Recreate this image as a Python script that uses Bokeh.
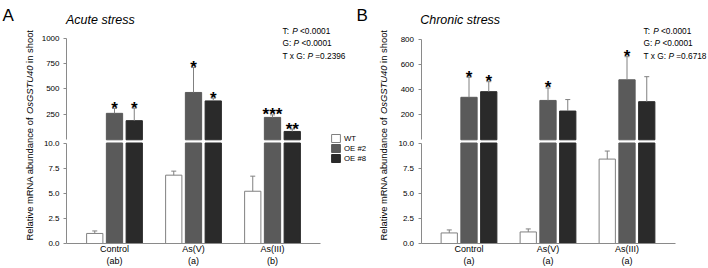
import math
from bokeh.plotting import figure
from bokeh.models import (Range1d, LinearAxis, FixedTicker, NumeralTickFormatter,
                          ColumnDataSource, Label, Legend, LegendItem,
                          Whisker, TeeHead)
from bokeh.embed import file_html
from bokeh.resources import INLINE
from bokeh.core.properties import value

# ---------------- data ----------------
categories = ["Control", "As(V)", "As(III)"]
genotypes = ["WT", "OE #2", "OE #8"]
lower_ticks = [0, 2.5, 5, 7.5, 10]
break_value = 10
stat_terms = ["T:", "G:", "T x G:"]

a_wt = [1.0, 6.8, 5.2]
a_wt_err = [0.25, 0.4, 1.5]
a_oe2 = [260, 465, 220]
a_oe2_err = [48, 245, 25]
a_oe8 = [188, 382, 82]
a_oe8_err = [122, 27, 23]
a_sig_oe2 = ["*", "*", "***"]
a_sig_oe8 = ["*", "*", "**"]
a_letters = ["(ab)", "(a)", "(b)"]
a_upper_ticks = [250, 500, 750, 1000]
a_stats = ["<0.0001", "<0.0001", "=0.2396"]

b_wt = [1.05, 1.15, 8.4]
b_wt_err = [0.3, 0.3, 0.8]
b_oe2 = [340, 315, 480]
b_oe2_err = [160, 100, 185]
b_oe8 = [385, 230, 305]
b_oe8_err = [80, 92, 200]
b_sig_oe2 = ["*", "*", "*"]
b_sig_oe8 = ["*", "", ""]
b_letters = ["(a)", "(a)", "(a)"]
b_upper_ticks = [200, 400, 600, 800]
b_stats = ["<0.0001", "<0.0001", "=0.6718"]

# ---------------- layout / style ----------------
FONT = "Liberation Sans"
TW, H = 708, 268
FL, FR, FB = 66, 320, 243        # frame edges of a panel (panel-relative x)
PX_X = 79.0                      # pixels per category
LOW_PX = 10.05                   # pixels per unit, lower segment
ZERO_UP = 139.3                  # screen y of 0 in the upper segment
OFFS = [-0.25, 0.0, 0.25]
BW = 0.206
C_WT, C_OE2, C_OE8 = "#ffffff", "#5a5a5a", "#2a2a2a"
C_AX = "#8a8a8a"
C_ERR = "#808080"
C_TXT = "#000000"

W = {' ': 278, 'T': 611, ':': 278, 'G': 778, 'x': 500, 'P': 667, '<': 584, '=': 584,
     '.': 278, 'O': 778, 's': 500, 'S': 667, 'U': 722, 'R': 722, 'e': 556, 'l': 222,
     'a': 556, 't': 278, 'i': 222, 'v': 500, 'm': 833, 'N': 722, 'A': 667, 'b': 556,
     'u': 556, 'n': 556, 'd': 556, 'c': 500, 'o': 556, 'f': 278, 'h': 556}


def tw(s, size):
    return sum(W.get(c, 556) for c in s) / 1000.0 * size


def label(sx, sy, text, size, style="normal", align="left", baseline="alphabetic", angle=0.0):
    return Label(x=sx, y=H - sy, x_units="screen", y_units="screen", text=text,
                 text_font=FONT, text_font_size=f"{size}px", text_font_style=style,
                 text_align=align, text_baseline=baseline, angle=angle, text_color=C_TXT)


p = figure(width=TW, height=H, output_backend="svg", toolbar_location=None,
           x_axis_type=None, y_axis_type=None, min_border=0,
           x_range=Range1d(0, TW),
           y_range=Range1d(-(H - FB) / LOW_PX, FB / LOW_PX))
p.outline_line_color = None
p.background_fill_color = "white"
p.border_fill_color = "white"


def style_axis(ax, size):
    ax.axis_line_color = C_AX
    ax.major_tick_line_color = C_AX
    ax.minor_tick_line_color = None
    ax.major_tick_out = 3
    ax.major_tick_in = 0
    ax.major_label_standoff = 4
    ax.major_label_text_font = FONT
    ax.major_label_text_font_size = size
    ax.major_label_text_color = C_TXT


def add_panel(key, off, letter, title, wt, wt_err, oe2, oe2_err, oe8, oe8_err, sig2, sig8,
              letters, upper_ticks, stats, top_sy, stats_x, title_x, letter_x, ylab_x):
    xname, uname = "x" + key, "u" + key
    xstart = 1 - (off + (FL + FR) / 2) / PX_X
    p.extra_x_ranges[xname] = Range1d(xstart, xstart + TW / PX_X)
    k = (ZERO_UP - top_sy) / upper_ticks[-1]
    p.extra_y_ranges[uname] = Range1d(-(H - ZERO_UP) / k, ZERO_UP / k)

    def xd(sx):
        return xstart + sx / PX_X

    # axes (drawn at fixed locations inside the single frame)
    ya = LinearAxis(x_range_name=xname, ticker=FixedTicker(ticks=lower_ticks),
                    formatter=NumeralTickFormatter(format="0.0"),
                    bounds=(0, break_value), fixed_location=xd(off + FL))
    yu = LinearAxis(x_range_name=xname, y_range_name=uname, ticker=FixedTicker(ticks=upper_ticks),
                    bounds=(0, upper_ticks[-1]), fixed_location=xd(off + FL))
    for ax in (ya, yu):
        style_axis(ax, "8px")
        p.add_layout(ax, "left")
    xa = LinearAxis(x_range_name=xname, ticker=FixedTicker(ticks=[0, 1, 2]),
                    major_label_overrides={i: c for i, c in enumerate(categories)},
                    bounds=(xd(off + FL), xd(off + FR)), fixed_location=0)
    style_axis(xa, "9px")
    xa.major_tick_line_color = None
    xa.major_tick_out = 0
    xa.major_label_standoff = 0
    p.add_layout(xa, "below")

    series = [(wt, wt_err, C_WT, "#808080"), (oe2, oe2_err, C_OE2, C_OE2), (oe8, oe8_err, C_OE8, C_OE8)]
    low_renderers = []
    for gi, (vals, errs, fc, lc) in enumerate(series):
        xs = [i + OFFS[gi] for i in range(len(categories))]
        low_top = [min(v, break_value) for v in vals]
        r = p.vbar(x=xs, top=low_top, bottom=0, width=BW, fill_color=fc, line_color=lc,
                   line_width=1, x_range_name=xname)
        low_renderers.append(r)
        upper = all(v > break_value for v in vals)
        if upper:
            p.vbar(x=xs, top=vals, bottom=0, width=BW, fill_color=fc, line_color=lc,
                   line_width=1, x_range_name=xname, y_range_name=uname)
        src = ColumnDataSource(dict(x=xs, lo=vals, hi=[v + e for v, e in zip(vals, errs)]))
        wk = Whisker(source=src, base="x", lower="lo", upper="hi", dimension="height",
                     line_color=C_ERR, line_width=1, lower_head=None,
                     upper_head=TeeHead(size=5, line_color=C_ERR, line_width=1),
                     level="annotation", x_range_name=xname)
        if upper:
            wk.y_range_name = uname
        p.add_layout(wk)

    # significance stars
    for gi, (vals, errs, sig) in enumerate([(oe2, oe2_err, sig2), (oe8, oe8_err, sig8)]):
        xs = [i + OFFS[gi + 1] for i in range(len(categories))]
        ys = [v + e for v, e in zip(vals, errs)]
        src = ColumnDataSource(dict(x=xs, y=ys, t=sig))
        p.text(x="x", y="y", text="t", source=src, x_range_name=xname, y_range_name=uname,
               text_font=value(FONT), text_font_style="bold", text_font_size="17px",
               text_align="center", text_baseline="alphabetic", text_color=C_TXT)

    # group letters
    for i, t in enumerate(letters):
        sx = off + FL + (i - (1 - (FR - FL) / 2 / PX_X)) * PX_X
        p.add_layout(label(sx, 260.5, t, 9, align="center", baseline="middle"))

    p.add_layout(label(letter_x, 15, letter, 17))
    p.add_layout(label(title_x, 19, title, 12.5, style="italic"))

    fs = 8.3
    for li, (term, st) in enumerate(zip(stat_terms, stats)):
        x0 = stats_x
        for part, style in ((term, "normal"), ("P", "italic"), (st, "normal")):
            p.add_layout(label(x0, 30.5 + li * 12.3, part, fs, style=style))
            x0 += tw(part + " ", fs)

    fsl = 9.4
    seg = [("Relative mRNA abundance of", "normal"), ("OsGSTU40", "italic"), ("in shoot", "normal")]
    sy = 240.0
    for txt, style in seg:
        p.add_layout(label(ylab_x, sy, txt, fsl, style=style, baseline="middle", angle=math.pi / 2))
        sy -= tw(txt + " ", fsl)
    return low_renderers


ra = add_panel("A", 0, "A", "Acute stress", a_wt, a_wt_err, a_oe2, a_oe2_err, a_oe8, a_oe8_err,
               a_sig_oe2, a_sig_oe8, a_letters, a_upper_ticks, a_stats, 37.5, 282, 65.5, 2, 28.5)
rb = add_panel("B", 354.5, "B", "Chronic stress", b_wt, b_wt_err, b_oe2, b_oe2_err, b_oe8, b_oe8_err,
               b_sig_oe2, b_sig_oe8, b_letters, b_upper_ticks, b_stats, 39.3, 643, 419.7, 356, 383)

items = [LegendItem(label=g, renderers=[r]) for g, r in zip(genotypes, ra)]
lg = Legend(items=items, location=(330, H - 163), padding=0, spacing=0, margin=0,
            glyph_width=11, glyph_height=10, label_height=10, label_standoff=3,
            label_text_font=FONT, label_text_font_size="7.8px", label_text_color=C_TXT,
            border_line_color=None, background_fill_alpha=0)
p.add_layout(lg)

open("out.html", "w").write(file_html(p, INLINE))
